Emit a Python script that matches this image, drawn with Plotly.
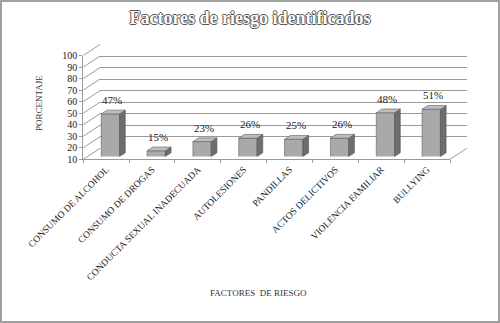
import plotly.graph_objects as go

categories = ["CONSUMO DE ALCOHOL", "CONSUMO DE DROGAS", "CONDUCTA SEXUAL INADECUADA",
              "AUTOLESIONES", "PANDILLAS", "ACTOS DELICTIVOS", "VIOLENCIA FAMILIAR", "BULLYING"]
values = [47, 15, 23, 26, 25, 26, 48, 51]
value_labels = ["47%", "15%", "23%", "26%", "25%", "26%", "48%", "51%"]
y_ticks = [10, 20, 30, 40, 50, 60, 70, 80, 90, 100]

title_text = "Factores de riesgo identificados"
y_title = "PORCENTAJE"
x_title = "FACTORES  DE RIESGO"

W, H = 500, 323
def fx(px): return px / W
def fy(py): return 1 - py / H

# geometry (pixels)
FX0, FX1 = 83.3, 450.0
FY10, FY100 = 159.3, 55.5
DX, DY = 16.7, -11.0
BP = 0.25  # bar plane depth fraction
BD = 0.34  # bar depth fraction
YMIN, YMAX = 10, 100
ppu = (FY10 - FY100) / (YMAX - YMIN)
n = len(categories)
ppc = (FX1 - FX0) / n
idx = list(range(n))

SERIF = "Liberation Serif"

fig = go.Figure()

# invisible trace to create the back-wall subplot
fig.add_trace(go.Scatter(x=idx, y=values, xaxis="x", yaxis="y", mode="markers",
                         marker=dict(opacity=0), hoverinfo="skip", showlegend=False))
# bars on the bar plane (x2, y2)
fig.add_trace(go.Bar(x=idx, y=values, xaxis="x2", yaxis="y2", width=0.4,
                     marker=dict(color="#a9a9a9", line=dict(color="#606060", width=0.6)),
                     hoverinfo="skip", showlegend=False))
# helper trace to carry categories on the front axis
fig.add_trace(go.Scatter(x=categories, y=values, xaxis="x3", yaxis="y3", mode="markers",
                         marker=dict(opacity=0), hoverinfo="skip", showlegend=False))

shapes = []
# 3D faces of bars
dxu = BD * DX / ppc
dyu = -BD * DY / ppu
w = 0.2
for i, v in zip(idx, values):
    top = f"M {i-w},{v} L {i+w},{v} L {i+w+dxu},{v+dyu} L {i-w+dxu},{v+dyu} Z"
    side = f"M {i+w},{YMIN} L {i+w},{v} L {i+w+dxu},{v+dyu} L {i+w+dxu},{YMIN+dyu} Z"
    shapes.append(dict(type="path", path=side, xref="x2", yref="y2",
                       fillcolor="#6e6e6e", line=dict(color="#505050", width=0.6)))
    shapes.append(dict(type="path", path=top, xref="x2", yref="y2",
                       fillcolor="#bdbdbd", line=dict(color="#606060", width=0.6)))

# left wall diagonals
for v in y_ticks:
    yf = FY10 - (v - YMIN) * ppu
    shapes.append(dict(type="line", xref="paper", yref="paper",
                       x0=fx(FX0), y0=fy(yf), x1=fx(FX0 + DX), y1=fy(yf + DY),
                       line=dict(color="#9a9a9a", width=1)))
# right floor diagonal
shapes.append(dict(type="line", xref="paper", yref="paper",
                   x0=fx(FX1), y0=fy(FY10), x1=fx(FX1 + DX), y1=fy(FY10 + DY),
                   line=dict(color="#9a9a9a", width=1)))
# border
shapes.append(dict(type="rect", xref="paper", yref="paper", x0=0.002, y0=0.003, x1=0.998, y1=0.997,
                   line=dict(color="#a0a0a0", width=2)))

annotations = []
for i, v, t in zip(idx, values, value_labels):
    annotations.append(dict(x=i, y=v, xref="x2", yref="y2", text=t, showarrow=False,
                            xanchor="center", yanchor="bottom", yshift=6, xshift=2,
                            font=dict(family=SERIF, size=11, color="#222")))
annotations.append(dict(x=fx(39), y=fy(103), xref="paper", yref="paper", text=y_title,
                        textangle=-90, showarrow=False, xanchor="center", yanchor="middle",
                        font=dict(family=SERIF, size=9, color="#333")))
annotations.append(dict(x=fx(258.5), y=fy(292.5), xref="paper", yref="paper", text=x_title,
                        showarrow=False, xanchor="center", yanchor="middle",
                        font=dict(family=SERIF, size=9, color="#333")))

outline = "1px 0 0 #555, -1px 0 0 #555, 0 1px 0 #555, 0 -1px 0 #555"

fig.update_layout(
    width=W, height=H, margin=dict(l=0, r=0, t=0, b=0, autoexpand=False),
    paper_bgcolor="white", plot_bgcolor="rgba(0,0,0,0)",
    title=dict(text=title_text, x=0.5, xanchor="center", y=fy(18), yanchor="middle",
               xref="paper", yref="paper", automargin=False,
               font=dict(family=SERIF, size=18, color="white", weight="bold", shadow=outline)),
    # back wall
    xaxis=dict(domain=[fx(FX0 + DX), fx(FX1 + DX)], anchor="y", range=[-0.5, n - 0.5],
               showgrid=False, showticklabels=False, zeroline=False, showline=False,
               automargin=False, ticks=""),
    yaxis=dict(domain=[fy(FY10 + DY), fy(FY100 + DY)], anchor="x", range=[YMIN, YMAX],
               tickvals=y_ticks, showgrid=True, gridcolor="#9a9a9a", gridwidth=1,
               showticklabels=False, zeroline=False, showline=False, automargin=False, ticks=""),
    # bar plane
    xaxis2=dict(domain=[fx(FX0 + BP * DX), fx(FX1 + BP * DX)], anchor="y2", range=[-0.5, n - 0.5],
                showgrid=False, showticklabels=False, zeroline=False, showline=False,
                automargin=False, ticks=""),
    yaxis2=dict(domain=[fy(FY10 + BP * DY), fy(FY100 + BP * DY)], anchor="x2", range=[YMIN, YMAX],
                showgrid=False, showticklabels=False, zeroline=False, showline=False,
                automargin=False, ticks=""),
    # front axes
    xaxis3=dict(domain=[fx(FX0), fx(FX1)], anchor="y3", type="category",
                categoryorder="array", categoryarray=categories, range=[-0.5, n - 0.5],
                showgrid=False, zeroline=False, showline=True, linecolor="#9a9a9a", linewidth=1,
                ticks="outside", tickson="boundaries", ticklen=3, tickcolor="#9a9a9a",
                tickangle=-45, tickfont=dict(family=SERIF, size=9.5, color="#222"),
                automargin=False),
    yaxis3=dict(domain=[fy(FY10), fy(FY100)], anchor="x3", range=[YMIN, YMAX],
                tickvals=y_ticks, showgrid=False, zeroline=False, showline=True,
                linecolor="#9a9a9a", linewidth=1, ticks="outside", ticklen=3, tickcolor="#9a9a9a",
                tickfont=dict(family=SERIF, size=10, color="#222"), automargin=False),
    shapes=shapes, annotations=annotations, bargap=0.6,
)

fig.write_html("out.html", config={"displayModeBar": False},
               post_script="document.body.style.margin='0';document.body.style.overflow='hidden';")
